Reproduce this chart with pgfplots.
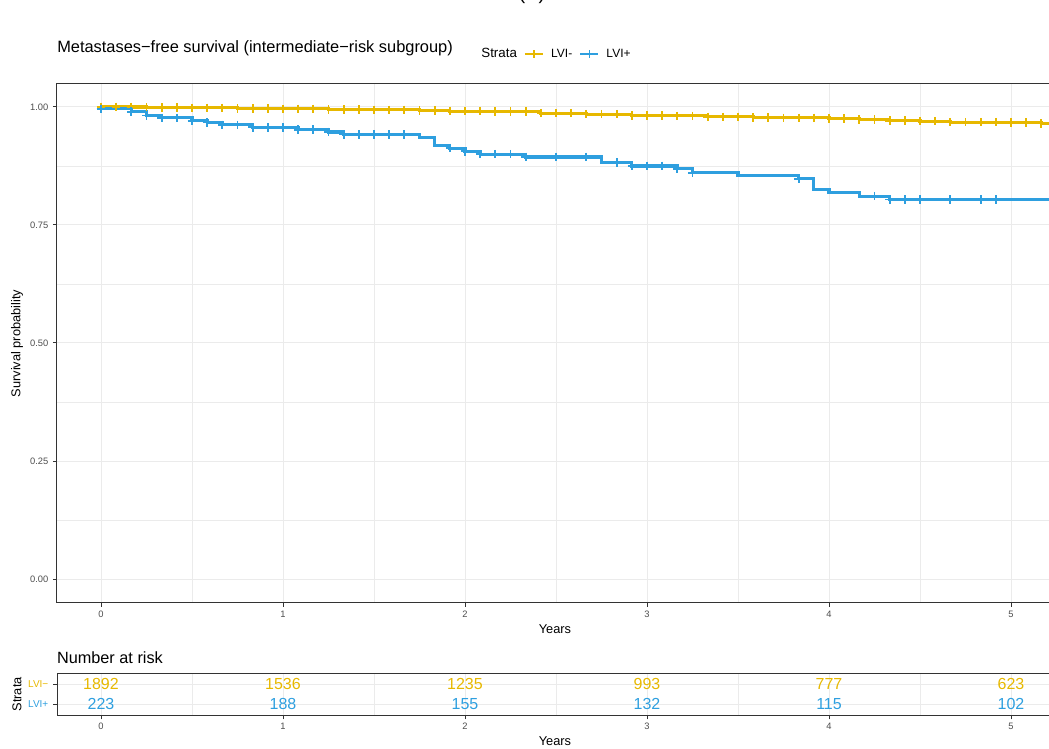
\documentclass[border=0pt]{standalone}
\usepackage{fontspec}
\setmainfont{Liberation Sans}
\usepackage{pgfplots}
\pgfplotsset{compat=1.18}
\definecolor{cyel}{HTML}{E7B800}
\definecolor{cblu}{HTML}{2E9FDF}
\definecolor{gridc}{HTML}{EBEBEB}
\definecolor{tickc}{HTML}{4D4D4D}
\definecolor{framec}{HTML}{333333}
\pgfplotsset{
  kmbase/.style={
    scale only axis, width=747pt,
    xmin=-0.24176, xmax=5.2308,
    xtick={0,1,2,3,4,5}, minor xtick={0.5,1.5,2.5,3.5,4.5},
    grid=both,
    major grid style={gridc, line width=0.75pt},
    minor grid style={gridc, line width=0.4pt},
    axis line style={framec, line width=0.75pt},
    tick style={framec, line width=0.75pt},
    major tick length=3pt, minor tick length=0pt,
    tick align=outside, xtick pos=bottom, ytick pos=left,
    ticklabel style={font=\fontsize{7}{8}\selectfont, text=tickc},
    /pgf/number format/assume math mode=true,
    xticklabel style={anchor=base, yshift=-8pt},
    label style={font=\fontsize{9.6}{11}\selectfont},
  }
}
\begin{document}
\begin{tikzpicture}
\useasboundingbox (0,0) rectangle (786.75pt,561.75pt);
\node[anchor=base, font=\fontsize{15}{18}\selectfont] at (399pt,562.2pt) {(B)};
\node[anchor=base west, inner sep=0pt, font=\fontsize{12.3}{14}\selectfont] at (42.75pt,522.4pt) {Metastases−free survival (intermediate−risk subgroup)};
\node[anchor=base west, inner sep=0pt, font=\fontsize{12.2}{14}\selectfont] at (42.6pt,64.3pt) {Number at risk};

\begin{axis}[kmbase,
  at={(42.75pt,109.5pt)}, anchor=south west, height=389.25pt,
  ymin=-0.0508, ymax=1.0487,
  ytick={0,0.25,0.5,0.75,1}, yticklabels={0.00,0.25,0.50,0.75,1.00},
  minor ytick={0.125,0.375,0.625,0.875},
  xlabel={Years}, ylabel={Survival probability},
  xlabel style={at={(axis description cs:0.5,-0.0584)}, anchor=base},
  ylabel style={at={(axis description cs:-0.0402,0.5)}, anchor=center},
  legend style={at={(axis description cs:0.501,1.0575)}, anchor=center, draw=none, fill=none,
    legend columns=-1, font=\fontsize{9}{10}\selectfont,
    /tikz/every even column/.append style={column sep=3pt}},
  legend image code/.code={\draw[mark repeat=2,mark phase=2,#1] plot coordinates {(0cm,0cm) (0.24cm,0cm) (0.48cm,0cm)};},
]
\addlegendimage{empty legend}
\addlegendentry{\fontsize{10}{12}\selectfont Strata\hspace{-11pt}}
\addlegendimage{cyel, line width=2pt, mark=+, mark size=3pt, mark options={line width=1.2pt}}
\addlegendentry{\hspace{3pt}LVI-}
\addlegendimage{cblu, line width=2pt, mark=+, mark size=3pt, mark options={line width=1.2pt}}
\addlegendentry{\hspace{3pt}LVI+}

\addplot[const plot, cyel, line width=2.3pt, forget plot] coordinates {
(0,1.000) (0.25,0.999) (0.5,0.998) (0.75,0.997) (1.0,0.996) (1.25,0.995) (1.5,0.994)
(1.75,0.993) (1.9167,0.991) (2.1667,0.990) (2.4167,0.987) (2.6667,0.985) (2.9167,0.982)
(3.1667,0.981) (3.3333,0.979) (3.5833,0.978) (3.75,0.977) (4.0,0.976) (4.1667,0.974)
(4.3333,0.971) (4.5,0.970) (4.6667,0.968) (5.0,0.967) (5.1667,0.965) (5.35,0.965)};
\addplot[only marks, mark=+, mark size=3.2pt, cyel, line width=1.4pt, forget plot] coordinates {
(0,1.000) (0.0833,1.000) (0.1667,1.000) (0.25,0.999) (0.3333,0.999) (0.4167,0.999)
(0.5,0.998) (0.5833,0.998) (0.6667,0.998) (0.75,0.997) (0.8333,0.997) (0.9167,0.997)
(1.0,0.996) (1.0833,0.996) (1.1667,0.996) (1.25,0.995) (1.3333,0.995) (1.4167,0.995)
(1.5,0.994) (1.5833,0.994) (1.6667,0.994) (1.75,0.993) (1.8333,0.993) (1.9167,0.991)
(2.0,0.991) (2.0833,0.991) (2.1667,0.990) (2.25,0.990) (2.3333,0.990) (2.4167,0.987)
(2.5,0.987) (2.5833,0.987) (2.6667,0.985) (2.75,0.985) (2.8333,0.985) (2.9167,0.982)
(3.0,0.982) (3.0833,0.982) (3.1667,0.981) (3.25,0.981) (3.3333,0.979) (3.4167,0.979)
(3.5,0.979) (3.5833,0.978) (3.6667,0.978) (3.75,0.977) (3.8333,0.977) (3.9167,0.977)
(4.0,0.976) (4.0833,0.976) (4.1667,0.974) (4.25,0.974) (4.3333,0.971) (4.4167,0.971)
(4.5,0.970) (4.5833,0.970) (4.6667,0.968) (4.75,0.968) (4.8333,0.968) (4.9167,0.968)
(5.0,0.967) (5.0833,0.967) (5.1667,0.965)};

\addplot[const plot, cblu, line width=2.3pt, forget plot] coordinates {
(0,0.996) (0.1667,0.990) (0.25,0.982) (0.3333,0.977) (0.5,0.971) (0.5833,0.967)
(0.6667,0.962) (0.8333,0.957) (1.0833,0.952) (1.25,0.947) (1.3333,0.942) (1.75,0.935)
(1.8333,0.918) (1.9167,0.913) (2.0,0.906) (2.0833,0.900) (2.3333,0.894) (2.75,0.882)
(2.9167,0.875) (3.1667,0.869) (3.25,0.861) (3.5,0.854) (3.8333,0.848) (3.9167,0.826)
(4.0,0.818) (4.1667,0.811) (4.3333,0.804) (5.35,0.804)};
\addplot[only marks, mark=+, mark size=3.2pt, cblu, line width=1.4pt, forget plot] coordinates {
(0,0.996) (0.1667,0.990) (0.25,0.982) (0.3333,0.977) (0.4167,0.977) (0.5,0.971)
(0.5833,0.967) (0.6667,0.962) (0.75,0.962) (0.8333,0.957) (0.9167,0.957) (1.0,0.957)
(1.0833,0.952) (1.1667,0.952) (1.25,0.947) (1.3333,0.942) (1.4167,0.942) (1.5,0.942)
(1.5833,0.942) (1.6667,0.942) (1.9167,0.913) (2.0,0.906) (2.0833,0.900) (2.1667,0.900)
(2.25,0.900) (2.3333,0.894) (2.5,0.894) (2.6667,0.894) (2.8333,0.882) (2.9167,0.875)
(3.0,0.875) (3.0833,0.875) (3.1667,0.869) (3.25,0.861) (3.8333,0.848) (4.25,0.811)
(4.3333,0.804) (4.4167,0.804) (4.5,0.804) (4.6667,0.804) (4.8333,0.804) (4.9167,0.804)};
\end{axis}

\begin{axis}[kmbase,
  at={(42.75pt,25.275pt)}, anchor=south west, height=31.5pt,
  ymin=0.43, ymax=2.56,
  ytick={1,2}, yticklabels={\textcolor{cblu}{LVI+},\textcolor{cyel}{LVI−}},
  yticklabel style={font=\fontsize{7.5}{9}\selectfont},
  xlabel={Years}, ylabel={Strata},
  xlabel style={at={(axis description cs:0.5,-0.73)}, anchor=base},
  ylabel style={at={(axis description cs:-0.0402,0.5)}, anchor=center},
]
\addplot[only marks, mark=none, nodes near coords, point meta=explicit symbolic,
  every node near coord/.style={anchor=center, text=cyel, font=\fontsize{12}{14}\selectfont}]
  table[meta=n] {
x y n
0 2 1892
1 2 1536
2 2 1235
3 2 993
4 2 777
5 2 623
};
\addplot[only marks, mark=none, nodes near coords, point meta=explicit symbolic,
  every node near coord/.style={anchor=center, text=cblu, font=\fontsize{12}{14}\selectfont}]
  table[meta=n] {
x y n
0 1 223
1 1 188
2 1 155
3 1 132
4 1 115
5 1 102
};
\end{axis}
\end{tikzpicture}
\end{document}
